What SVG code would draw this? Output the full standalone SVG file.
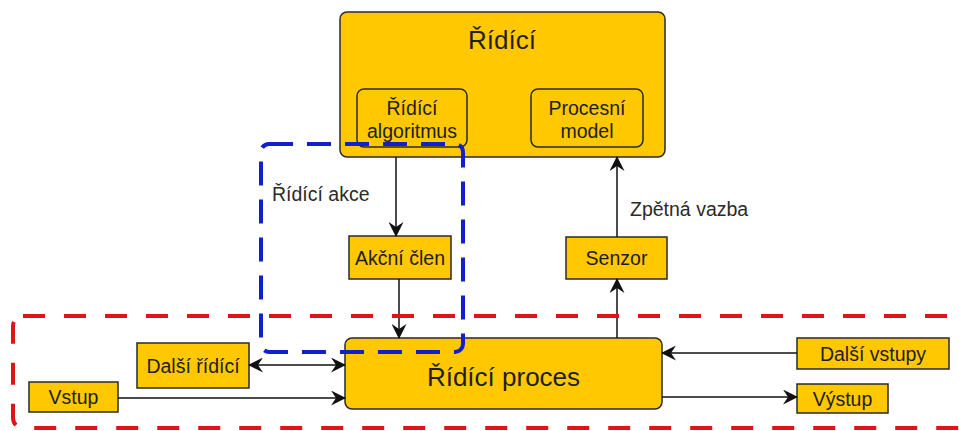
<svg xmlns="http://www.w3.org/2000/svg" width="959" height="431" viewBox="0 0 959 431">
  <defs>
    <style>
      .box { fill: #ffc800; stroke: #2a2a2a; stroke-width: 1.5; }
      .lbl { font-family: "Liberation Sans", Arial, sans-serif; fill: #1e1e1e; text-anchor: middle; }
      .s { font-size: 19.5px; }
      .l { font-size: 26px; }
      .free { font-family: "Liberation Sans", Arial, sans-serif; fill: #2a2a2a; font-size: 19.5px; }
      .wire { stroke: #111; stroke-width: 1.5; fill: none; }
      .fwd { marker-end: url(#arrow); }
      .both { marker-start: url(#arrowStart); marker-end: url(#arrow); }
    </style>
    <marker id="arrow" viewBox="0 0 15 15" refX="14" refY="7.5" markerWidth="15" markerHeight="15" markerUnits="userSpaceOnUse" orient="auto">
      <path d="M0,0 L15,7.5 L0,15 L5,7.5 Z" fill="#111"/>
    </marker>
    <marker id="arrowStart" viewBox="0 0 15 15" refX="1" refY="7.5" markerWidth="15" markerHeight="15" markerUnits="userSpaceOnUse" orient="auto">
      <path d="M15,0 L0,7.5 L15,15 L10,7.5 Z" fill="#111"/>
    </marker>
  </defs>

  <rect width="959" height="431" fill="#ffffff"/>

  <!-- controller -->
  <g id="controller">
    <rect class="box" x="340" y="12" width="325" height="145" rx="7"/>
    <text class="lbl l" x="502" y="49">Řídící</text>
  </g>
  <g id="algorithm">
    <rect class="box" x="357" y="89" width="110" height="58" rx="7"/>
    <text class="lbl s" x="412" y="115">Řídící</text>
    <text class="lbl s" x="412" y="138">algoritmus</text>
  </g>
  <g id="process-model">
    <rect class="box" x="531" y="89" width="112" height="58" rx="7"/>
    <text class="lbl s" x="587" y="115">Procesní</text>
    <text class="lbl s" x="587" y="138">model</text>
  </g>

  <g id="actuator">
    <rect class="box" x="349" y="236" width="102" height="43"/>
    <text class="lbl s" x="400" y="265">Akční člen</text>
  </g>
  <g id="sensor">
    <rect class="box" x="566" y="237" width="101" height="42"/>
    <text class="lbl s" x="616.5" y="265">Senzor</text>
  </g>
  <g id="controlled-process">
    <rect class="box" x="345" y="338" width="317" height="71" rx="7"/>
    <text class="lbl l" x="503.5" y="386">Řídící proces</text>
  </g>
  <g id="other-controllers">
    <rect class="box" x="137" y="343" width="112" height="45"/>
    <text class="lbl s" x="193" y="373">Další řídící</text>
  </g>
  <g id="input">
    <rect class="box" x="29" y="382" width="89" height="30"/>
    <text class="lbl s" x="73.5" y="404">Vstup</text>
  </g>
  <g id="other-inputs">
    <rect class="box" x="797" y="338" width="152" height="31"/>
    <text class="lbl s" x="873" y="361">Další vstupy</text>
  </g>
  <g id="output">
    <rect class="box" x="797" y="384" width="91" height="29"/>
    <text class="lbl s" x="842.5" y="406">Výstup</text>
  </g>

  <!-- connectors -->
  <g id="connectors">
    <line class="wire fwd" x1="396" y1="157" x2="396" y2="236"/>
    <line class="wire fwd" x1="399" y1="279" x2="399" y2="338"/>
    <line class="wire fwd" x1="617" y1="338" x2="617" y2="279"/>
    <line class="wire fwd" x1="617" y1="237" x2="617" y2="157"/>
    <line class="wire both" x1="249" y1="365" x2="345" y2="365"/>
    <line class="wire fwd" x1="118" y1="398" x2="345" y2="398"/>
    <line class="wire fwd" x1="797" y1="353" x2="662" y2="353"/>
    <line class="wire fwd" x1="662" y1="397" x2="797" y2="397"/>
  </g>

  <g id="labels">
    <text class="free" x="272" y="201">Řídící akce</text>
    <text class="free" x="630" y="216">Zpětná vazba</text>
  </g>

  <!-- boundaries -->
  <g id="process-boundary">
    <rect x="13" y="316" width="1000" height="112" rx="10" fill="none" stroke="#e01418" stroke-width="4" stroke-dasharray="22 19"/>
  </g>
  <g id="action-boundary">
    <rect x="261" y="144" width="202" height="208" rx="8" fill="none" stroke="#1020cc" stroke-width="4" stroke-dasharray="24 14"/>
  </g>
</svg>
